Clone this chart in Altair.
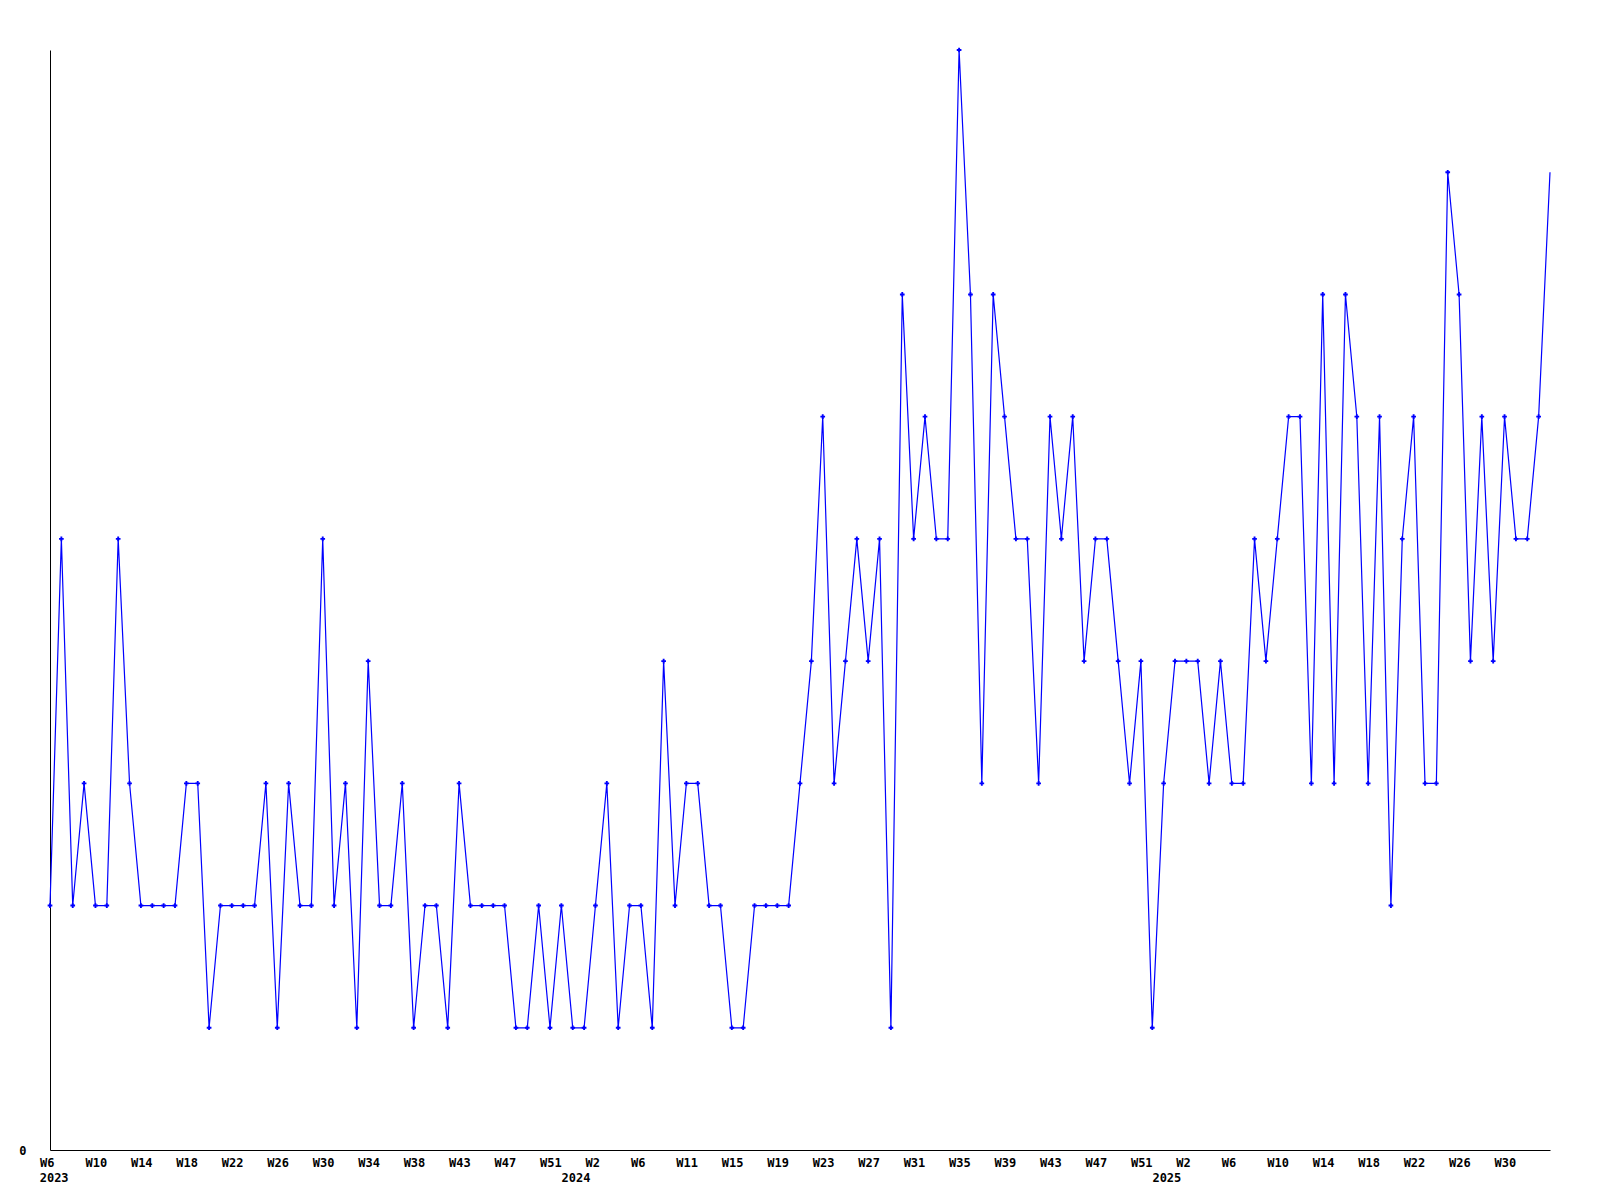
import altair as alt
import pandas as pd

# weekly values, 2023-W06 ... 2025-W34
values = [
    2, 5, 2, 3, 2, 2, 5, 3, 2, 2,
    2, 2, 3, 3, 1, 2, 2, 2, 2, 3,
    1, 3, 2, 2, 5, 2, 3, 1, 4, 2,
    2, 3, 1, 2, 2, 1, 3, 2, 2, 2,
    2, 1, 1, 2, 1, 2, 1, 1, 2, 3,
    1, 2, 2, 1, 4, 2, 3, 3, 2, 2,
    1, 1, 2, 2, 2, 2, 3, 4, 6, 3,
    4, 5, 4, 5, 1, 7, 5, 6, 5, 5,
    9, 7, 3, 7, 6, 5, 5, 3, 6, 5,
    6, 4, 5, 5, 4, 3, 4, 1, 3, 4,
    4, 4, 3, 4, 3, 3, 5, 4, 5, 6,
    6, 3, 7, 3, 7, 6, 3, 6, 2, 5,
    6, 3, 3, 8, 7, 4, 6, 4, 6, 5,
    5, 6, 8,
]

# x tick labels (one every 4 weeks)
week_labels = [
    "W6", "W10", "W14", "W18", "W22", "W26", "W30", "W34", "W38", "W43",
    "W47", "W51", "W2", "W6", "W11", "W15", "W19", "W23", "W27", "W31",
    "W35", "W39", "W43", "W47", "W51", "W2", "W6", "W10", "W14", "W18",
    "W22", "W26", "W30",
]
tick_step = 4
tick_values = [i * tick_step for i in range(len(week_labels))]

year_labels = ["2023", "2024", "2025"]
year_values = [0.32, 46.24, 98.24]

n = len(values)
df = pd.DataFrame({"i": list(range(n)), "v": values})

FONT = "DejaVu Sans Mono"
FS = 12
BLUE = "#0000ff"

week_expr = "[" + ",".join("'%s'" % s for s in week_labels) + "][round(datum.value/%d)]" % tick_step
year_expr = ("[" + ",".join("'%s'" % s for s in year_labels) + "][indexof(["
             + ",".join(str(v) for v in year_values) + "], datum.value)]")

xscale = alt.Scale(domain=[0, n - 1], nice=False, zero=False)
yscale = alt.Scale(domain=[0, 9], nice=False)

yaxis = alt.Axis(
    values=[0], title=None, grid=False, ticks=False, tickSize=0,
    labelPadding=24, labelFont=FONT, labelFontWeight="bold", labelFontSize=FS,
    labelColor="black", domainColor="black", domainWidth=1,
)

week_axis = alt.Axis(
    orient="bottom", values=tick_values, labelExpr=week_expr, title=None,
    grid=False, ticks=False, tickSize=0, labelAlign="left", labelOffset=-10.5,
    labelBaseline="top", labelPadding=7, labelFlush=False, labelOverlap=False,
    labelBound=False, labelFont=FONT, labelFontWeight="bold", labelFontSize=FS,
    labelColor="black", domainColor="black", domainWidth=1,
)

year_axis = alt.Axis(
    orient="bottom", values=year_values, labelExpr=year_expr, title=None,
    grid=False, ticks=False, tickSize=0, domain=False, labelAlign="center",
    labelBaseline="top", labelPadding=22, labelFlush=False, labelOverlap=False,
    labelBound=False, labelFont=FONT, labelFontWeight="bold", labelFontSize=FS,
    labelColor="black",
)

line = alt.Chart(df).mark_line(color=BLUE, strokeWidth=1.2).encode(
    x=alt.X("i:Q", scale=xscale, axis=week_axis),
    y=alt.Y("v:Q", scale=yscale, axis=yaxis),
)

points = alt.Chart(df).transform_filter(f"datum.i < {n - 1}").mark_point(
    shape="cross", filled=True, size=22, color=BLUE, opacity=1
).encode(
    x=alt.X("i:Q", scale=xscale, axis=year_axis),
    y=alt.Y("v:Q", scale=yscale, axis=yaxis),
)

chart = alt.layer(line, points).resolve_axis(x="independent").properties(
    width=1500,
    height=1100,
    autosize=alt.AutoSizeParams(type="none"),
    padding={"left": 42, "top": 42, "right": 40, "bottom": 60},
    background="white",
).configure_view(stroke=None)

chart.save("out.html", embed_options={"renderer": "svg", "actions": False})
